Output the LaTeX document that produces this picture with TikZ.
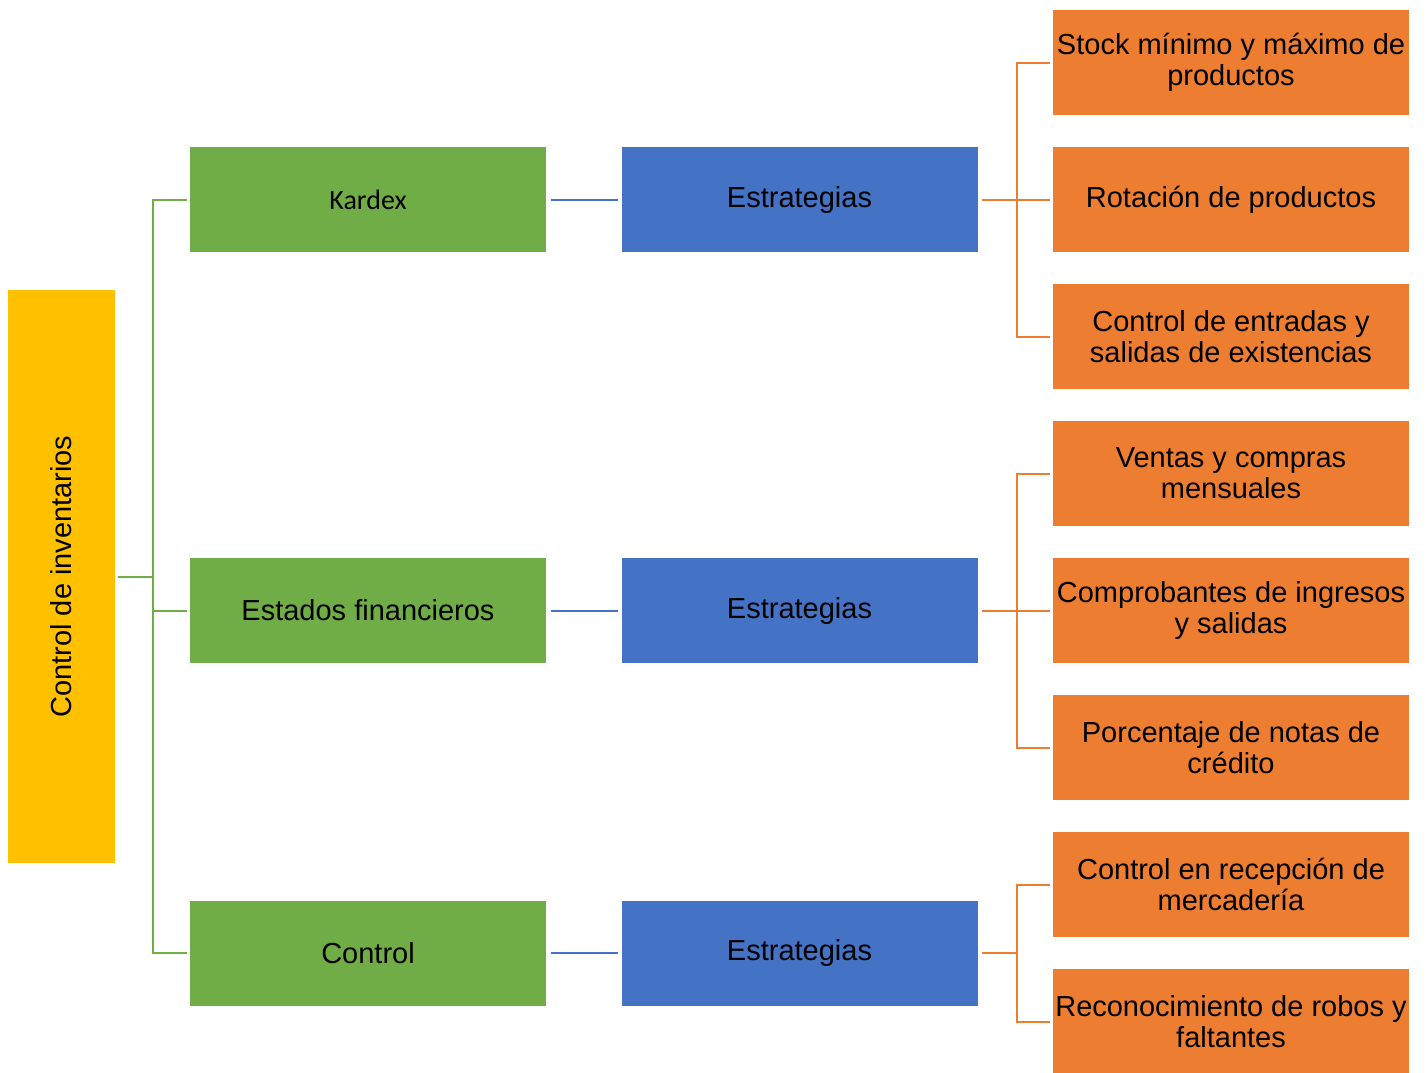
\documentclass[tikz,border=0pt]{standalone}
\usepackage{fontspec}
\setmainfont{Liberation Sans}
\newfontfamily\calibri{Carlito}
\usepackage{xcolor}
\usetikzlibrary{positioning}
\definecolor{amarillo}{HTML}{FFC000}
\definecolor{verde}{HTML}{70AD47}
\definecolor{azul}{HTML}{4472C4}
\definecolor{naranja}{HTML}{ED7D31}

\begin{document}
\begin{tikzpicture}[x=0.5pt, y=-0.5pt, line width=1pt, node distance=215.75pt,
        caja/.style={minimum width=178pt, minimum height=52.5pt, inner sep=0pt,
            align=center, font=\fontsize{14.5}{15.5}\selectfont},
        tema/.style={caja, fill=verde},
        estr/.style={caja, fill=azul},
        hoja/.style={caja, fill=naranja},
        lverde/.style={draw=verde, line cap=rect},
        lazul/.style={draw=azul, shorten <=2pt, shorten >=1.5pt},
        lnaranja/.style={draw=naranja, line cap=rect}]
            \useasboundingbox (0,0) rectangle (1427,1072);

            \node [caja, fill=amarillo, rotate=90, minimum width=286.5pt,
                minimum height=53.5pt] (raiz) at (61.5,576.5) {Control de inventarios};

            \node [tema] (kardex) at (368,199.5) {{\calibri\fontsize{14}{16}\selectfont Kardex}};
            \node [tema] (estados) at (368,610.5) {Estados financieros};
            \node [tema] (control) at (368,953) {Control};

            \node [estr, right of=kardex] (est1) {Estrategias};
            \node [estr, right of=estados] (est2) {Estrategias};
            \node [estr, right of=control] (est3) {Estrategias};

            \node [hoja, right of=est1] (h12) {Rotación de productos};
            \node [hoja, above of=h12, node distance=68.5pt] (h11) {Stock mínimo y máximo de\\productos};
            \node [hoja, below of=h12, node distance=68.5pt] (h13) {Control de entradas y\\salidas de existencias};

            \node [hoja, right of=est2] (h22) {Comprobantes de ingresos\\y salidas};
            \node [hoja, above of=h22, node distance=68.5pt] (h21) {Ventas y compras\\mensuales};
            \node [hoja, below of=h22, node distance=68.5pt] (h23) {Porcentaje de notas de\\crédito};

            \node [hoja, right of=est3, yshift=34.25pt] (h31) {Control en recepción de\\mercadería};
            \node [hoja, below of=h31, node distance=68.5pt] (h32) {Reconocimiento de robos y\\faltantes};

            \coordinate [right=18.5pt of raiz.south] (tv);
            \draw [lverde, shorten <=1.5pt] (raiz.south) -- (tv);
            \draw [lverde] (tv |- kardex) -- (tv |- control);
            \foreach \n in {kardex, estados, control}
                \draw [lverde, shorten >=1.5pt] (tv |- \n) -- (\n);

            \draw [lazul] (kardex) -- (est1);
            \draw [lazul] (estados) -- (est2);
            \draw [lazul] (control) -- (est3);

            \coordinate [right=19pt of est1.east] (t1);
            \coordinate [right=19pt of est2.east] (t2);
            \coordinate [right=19pt of est3.east] (t3);
            \draw [lnaranja, shorten <=2pt] (est1) -- (t1);
            \draw [lnaranja, shorten <=2pt] (est2) -- (t2);
            \draw [lnaranja, shorten <=2pt] (est3) -- (t3);
            \draw [lnaranja] (t1 |- h11) -- (t1 |- h13);
            \draw [lnaranja] (t2 |- h21) -- (t2 |- h23);
            \draw [lnaranja] (t3 |- h31) -- (t3 |- h32);
            \foreach \h in {h11, h12, h13}
                \draw [lnaranja, shorten >=1.5pt] (t1 |- \h) -- (\h);
            \foreach \h in {h21, h22, h23}
                \draw [lnaranja, shorten >=1.5pt] (t2 |- \h) -- (\h);
            \foreach \h in {h31, h32}
                \draw [lnaranja, shorten >=1.5pt] (t3 |- \h) -- (\h);
        \end{tikzpicture}
\end{document}
